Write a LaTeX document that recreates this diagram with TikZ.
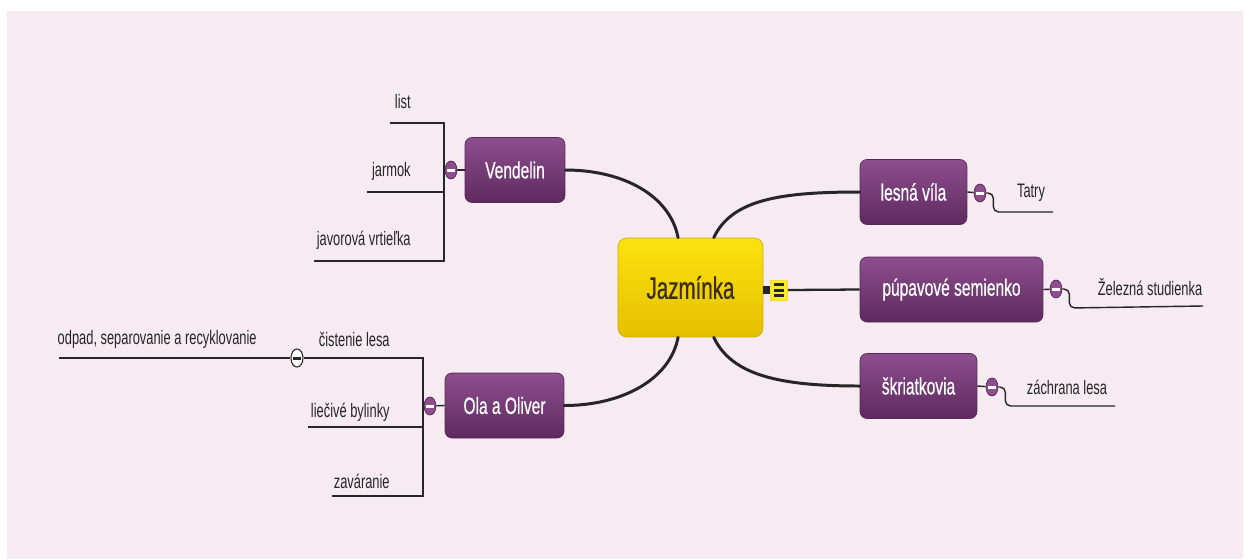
\documentclass[tikz,border=0pt]{standalone}
\usepackage{fontspec}
\setmainfont[FakeStretch=0.66]{Liberation Sans}
\newfontfamily\heavyfont[FakeStretch=0.66,FakeBold=0.5]{Liberation Sans}
\usetikzlibrary{calc,shapes.geometric}

\definecolor{bgpink}{RGB}{246,235,240}
\definecolor{topicTop}{RGB}{142,78,142}
\definecolor{topicBot}{RGB}{94,42,94}
\definecolor{topicEdge}{RGB}{88,38,88}
\definecolor{rootTop}{RGB}{252,226,16}
\definecolor{rootBot}{RGB}{228,192,0}
\definecolor{rootEdge}{RGB}{206,172,0}
\definecolor{rootInk}{RGB}{58,44,0}
\definecolor{ink}{RGB}{38,38,38}

\tikzset{
  root/.style={rectangle, rounded corners=5pt, top color=rootTop, bottom color=rootBot,
    draw=rootEdge, minimum width=2.9cm, minimum height=1.98cm, text=rootInk,
    font=\heavyfont\fontsize{17.7}{20}\selectfont},
  topic/.style={rectangle, rounded corners=4pt, top color=topicTop, bottom color=topicBot,
    draw=topicEdge, text=white, minimum height=1.3cm, font=\heavyfont\fontsize{13.4}{15}\selectfont},
  leaf/.style={inner sep=0pt, text=ink, font=\fontsize{11.1}{13}\selectfont},
  fold/.style={ellipse, fill=topicTop, draw=topicEdge, inner sep=0pt,
    minimum width=0.24cm, minimum height=0.36cm,
    path picture={\fill[white] ($(path picture bounding box.center)+(-0.08cm,-0.03cm)$)
      rectangle ($(path picture bounding box.center)+(0.08cm,0.03cm)$);}},
  openfold/.style={ellipse, fill=white, draw=ink, line width=0.6pt, inner sep=0pt,
    minimum width=0.24cm, minimum height=0.36cm,
    path picture={\fill[ink] ($(path picture bounding box.center)+(-0.08cm,-0.03cm)$)
      rectangle ($(path picture bounding box.center)+(0.08cm,0.03cm)$);}},
  menu/.style={rectangle, fill={rgb,255:red,252;green,236;blue,40}, draw={rgb,255:red,240;green,220;blue,60},
    inner sep=0pt, minimum width=0.34cm, minimum height=0.40cm,
    path picture={\foreach \k in {-1,0,1}
      \fill[ink] ($(path picture bounding box.center)+(-0.1cm,\k*0.11cm-0.03cm)$) rectangle ++(0.2cm,0.06cm);}},
  trunk/.style={draw=ink, line width=1.7pt, line cap=round},
  twig/.style={draw=ink, line width=0.8pt}
}

\begin{document}
\begin{tikzpicture}[x=0.02cm,y=-0.02cm]
  %% Canvas
  \useasboundingbox (0,0) rectangle (1245,559);
  \fill[white] (0,0) rectangle (1245,559);
  \fill[bgpink] (7,11) rectangle (1243,559);

  %% Central topic and main topics
  \node[root] (JAZ) at (690.5,287.5) {Jazmínka};
  \node[topic, minimum width=2.0cm]  (VEN)  at (515,170)     {Vendelin};
  \node[topic, minimum width=2.38cm] (OLA)  at (504.5,405.5) {Ola a Oliver};
  \node[topic, minimum width=2.14cm] (VILA) at (913.5,192)   {lesná víla};
  \node[topic, minimum width=3.66cm] (PUP)  at (951.5,289.5) {púpavové semienko};
  \node[topic, minimum width=2.34cm] (SKR)  at (918.5,386)   {škriatkovia};

  %% Branches from the centre
  \draw[trunk] (JAZ.104) .. controls +(-8,-42) and +(58,0) .. (VEN.east);
  \draw[trunk] (JAZ.256) .. controls +(-8,42) and +(58,0) .. (OLA.east);
  \draw[trunk] (JAZ.65) .. controls +(18,-38) and +(-80,0) .. (VILA.west);
  \draw[trunk] (JAZ.295) .. controls +(18,38) and +(-80,0) .. (SKR.west);
  \node[menu] (ICON) at (779,290) {};
  \draw[draw=ink, line width=4.5pt] (JAZ.east |- ICON) -- (ICON.west);
  \draw[draw=ink, line width=1.3pt] (ICON.east) -- (PUP.west);

  %% Fold buttons
  \node[fold] (VENdot)  at (451,170)  {};
  \node[fold] (OLAdot)  at (430,406)  {};
  \node[fold] (VILAdot) at (980,193)  {};
  \node[fold] (PUPdot)  at (1056,289) {};
  \node[fold] (SKRdot)  at (992,387)  {};
  \draw[twig] (VEN.west) -- (VENdot);
  \draw[twig] (OLA.west) -- (OLAdot);
  \draw[twig] (VILA.east) -- (VILAdot);
  \draw[twig] (PUP.east) -- (PUPdot);
  \draw[twig] (SKR.east) -- (SKRdot);

  %% Vendelin leaves
  \coordinate (VENbar) at (444,170);
  \draw[twig] (VENdot.west) -- (VENbar);
  \foreach \nm/\ty/\lx/\txt in {list/102/390/list, jarmok/171/367/jarmok, javor/240/314/javorová vrtieľka}
  {
    \node[leaf, anchor=east] (\nm) at (411,\ty) {\txt};
    \coordinate (\nm L) at (\lx,\ty+21);
    \draw[twig] (VENbar) |- (\nm L);
  }

  %% Ola a Oliver leaves
  \coordinate (OLAbar) at (423,406);
  \draw[twig] (OLAdot.west) -- (OLAbar);
  \node[openfold] (ODPdot) at (297,358) {};
  \node[leaf, anchor=east] (cist) at (390,339) {čistenie lesa};
  \draw[twig] (OLAbar) |- (ODPdot.east);
  \foreach \nm/\ty/\lx/\txt in {liec/412/308/liečivé bylinky, zavar/481/332/zaváranie}
  {
    \node[leaf, anchor=east] (\nm) at (390,\ty) {\txt};
    \coordinate (\nm L) at (\lx,\ty+15);
    \draw[twig] (OLAbar) |- (\nm L);
  }
  \node[leaf, anchor=east] (odpad) at (257,339) {odpad, separovanie a recyklovanie};
  \coordinate (odpadL) at (59,358);
  \draw[twig] (ODPdot.west) -- (odpadL);

  %% Right-hand leaves
  \foreach \dt/\nm/\tx/\ty/\ex/\txt in {VILAdot/tatry/1031/193/1053/Tatry,
                                        PUPdot/zelez/1150/287/1203/Železná studienka,
                                        SKRdot/zachr/1067/387/1115/záchrana lesa}
  {
    \node[leaf] (\nm) at (\tx,\ty) {\txt};
    \coordinate (\nm E) at (\ex,\ty+19);
    \draw[twig, rounded corners=3pt] (\dt.east) -| ($(\dt.east)+(7,19)$) -- (\nm E);
  }
\end{tikzpicture}
\end{document}
